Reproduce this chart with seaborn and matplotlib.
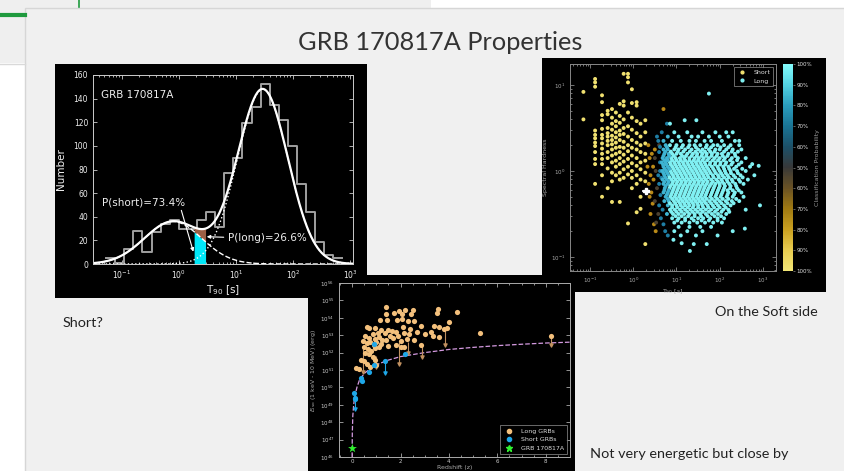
import numpy as np
import pandas as pd
import matplotlib
matplotlib.use("Agg")
import matplotlib.pyplot as plt
import seaborn as sns
from matplotlib.colors import LinearSegmentedColormap, Normalize
from matplotlib.patches import Rectangle
from matplotlib.lines import Line2D
from matplotlib.ticker import LogLocator, LogFormatterSciNotation, MultipleLocator, NullFormatter, NullLocator
import matplotlib.colorbar as mcolorbar

# ---------------- data: T90 histogram (left panel) ----------------
hist_log_edge0 = -1.27
hist_log_width = 0.159
hist_counts = [5, 1, 13, 28, 10, 27, 34, 37, 30, 30, 37, 44, 31, 77, 90,
               119, 133, 152, 135, 122, 100, 68, 44, 19, 8, 5]
short_amp, short_mu, short_sig = 36.0, -0.10, 0.50
long_amp, long_mu, long_sig = 148.0, 1.47, 0.44
grb_fill_logT = [0.27, 0.47]
p_short_label = "P(short)=73.4%"
p_long_label = "P(long)=26.6%"

# ---------------- data: hardness vs T90 (right panel) ----------------
short_cols_logT = [-1.15, -0.88, -0.72, -0.59, -0.49, -0.40, -0.31, -0.22, -0.12, -0.03, 0.08, 0.17, 0.28]
short_cols_logH = [
    [0.92, 0.60],
    [1.07, 1.03, 0.98, 0.47, 0.42, 0.38, 0.33, 0.29, 0.22, 0.14, 0.08, -0.15],
    [0.88, 0.80, 0.65, 0.59, 0.49, 0.42, 0.38, 0.32, 0.26, 0.20, 0.14, 0.08, -0.05, -0.30],
    [0.70, 0.66, 0.50, 0.44, 0.40, 0.35, 0.30, 0.22, 0.15, 0.03, -0.20],
    [0.72, 0.62, 0.55, 0.48, 0.41, 0.36, 0.31, 0.25, 0.18, 0.10, -0.02, -0.12, -0.36],
    [0.68, 0.58, 0.52, 0.45, 0.39, 0.33, 0.27, 0.20, 0.12, 0.05, -0.05],
    [0.78, 0.64, 0.56, 0.47, 0.42, 0.36, 0.28, 0.22, 0.15, 0.08, -0.02, -0.10, -0.36],
    [1.13, 0.81, 0.76, 0.60, 0.50, 0.43, 0.34, 0.27, 0.19, 0.11, 0.02, -0.08],
    [1.13, 1.09, 1.03, 0.68, 0.52, 0.40, 0.30, 0.23, 0.14, 0.05, -0.04, -0.61],
    [0.95, 0.79, 0.62, 0.48, 0.36, 0.27, 0.18, 0.09, 0.00, -0.08, -0.20],
    [0.80, 0.76, 0.58, 0.44, 0.33, 0.25, 0.15, 0.06, -0.05, -0.15, -0.48],
    [0.55, 0.40, 0.30, 0.22, 0.10, 0.02, -0.10, -0.30, -0.44],
    [0.59, 0.45, 0.32, 0.20, 0.12, -0.02, -0.12, -0.85],
]
gold_logT = [0.35, 0.38, 0.33, 0.40, 0.36, 0.42, 0.45, 0.40, 0.48, 0.52, 0.43, 0.46, 0.38, 0.50, 0.70, 0.47]
gold_logH = [0.30, 0.15, 0.05, -0.05, -0.15, -0.25, -0.38, -0.50, -0.62, -0.70, 0.20, 0.05, -0.30, 0.25, 0.72, -0.10]
mid_logT = [0.50, 0.52, 0.55, 0.50, 0.58, 0.60, 0.53]
mid_logH = [0.15, 0.00, -0.20, -0.35, -0.50, 0.30, -0.60]
blue_logT = [0.58, 0.60, 0.62, 0.58, 0.60, 0.63, 0.60, 0.64, 0.66, 0.65, 0.62, 0.68, 0.70, 0.62, 0.74, 0.80, 0.78, 0.55]
blue_logH = [0.35, 0.22, 0.10, -0.05, -0.15, -0.28, -0.40, -0.55, 0.45, -0.08, 0.00, -0.45, -0.62, 0.28, -0.70, -0.75, 0.55, 0.40]
long_row_logH = [0.45, 0.40, 0.35, 0.30, 0.25, 0.20, 0.15, 0.10, 0.05, 0.00, -0.05, -0.10,
                 -0.15, -0.20, -0.25, -0.30, -0.35, -0.40, -0.45, -0.50, -0.55, -0.60, -0.65, -0.70, -0.75]
long_row_logT = [
    [0.95, 1.25, 1.6, 1.9, 2.15, 2.3],
    [0.8, 1.05, 1.35, 1.5, 1.75, 2.0, 2.2],
    [0.7, 0.9, 1.1, 1.3, 1.45, 1.65, 1.8, 2.05, 2.35],
    [0.75, 0.85, 1.0, 1.15, 1.3, 1.42, 1.55, 1.7, 1.85, 1.95, 2.1, 2.25, 2.45],
    [0.7, 0.8, 0.95, 1.05, 1.2, 1.35, 1.5, 1.6, 1.75, 1.9, 2.0, 2.15, 2.3, 2.5],
    [0.72, 0.82, 0.9, 1.0, 1.1, 1.25, 1.38, 1.48, 1.6, 1.7, 1.82, 1.95, 2.05, 2.2, 2.35],
    [0.68, 0.78, 0.88, 0.98, 1.08, 1.18, 1.3, 1.42, 1.52, 1.63, 1.75, 1.88, 2.0, 2.12, 2.28, 2.42],
    [0.66, 0.75, 0.85, 0.95, 1.05, 1.15, 1.25, 1.35, 1.45, 1.55, 1.65, 1.78, 1.9, 2.02, 2.15, 2.3, 2.5],
    [0.7, 0.8, 0.9, 1.0, 1.1, 1.2, 1.3, 1.4, 1.5, 1.6, 1.7, 1.82, 1.95, 2.08, 2.2, 2.38],
    [0.67, 0.76, 0.86, 0.96, 1.06, 1.16, 1.26, 1.36, 1.46, 1.56, 1.66, 1.76, 1.88, 2.0, 2.12, 2.25, 2.4, 2.6],
    [0.72, 0.82, 0.92, 1.02, 1.12, 1.22, 1.32, 1.42, 1.52, 1.62, 1.72, 1.84, 1.96, 2.06, 2.18, 2.32, 2.48],
    [0.68, 0.78, 0.88, 0.98, 1.08, 1.18, 1.28, 1.38, 1.48, 1.58, 1.68, 1.8, 1.92, 2.04, 2.16, 2.28, 2.44],
    [0.7, 0.8, 0.9, 1.0, 1.1, 1.2, 1.3, 1.4, 1.5, 1.6, 1.7, 1.8, 1.9, 2.0, 2.1, 2.22, 2.36, 2.55],
    [0.73, 0.84, 0.94, 1.04, 1.14, 1.24, 1.34, 1.44, 1.54, 1.64, 1.74, 1.86, 1.98, 2.1, 2.24, 2.4],
    [0.7, 0.8, 0.9, 1.0, 1.1, 1.2, 1.3, 1.4, 1.5, 1.6, 1.7, 1.82, 1.94, 2.06, 2.2, 2.35, 2.5],
    [0.75, 0.86, 0.96, 1.06, 1.16, 1.26, 1.36, 1.46, 1.56, 1.66, 1.78, 1.9, 2.02, 2.16, 2.3],
    [0.72, 0.82, 0.94, 1.04, 1.14, 1.24, 1.34, 1.44, 1.54, 1.64, 1.76, 1.88, 2.0, 2.14, 2.28, 2.45],
    [0.8, 0.9, 1.0, 1.1, 1.2, 1.3, 1.4, 1.5, 1.6, 1.72, 1.84, 1.96, 2.1, 2.25],
    [0.85, 0.96, 1.08, 1.2, 1.32, 1.44, 1.56, 1.68, 1.8, 1.94, 2.08, 2.2],
    [0.78, 0.92, 1.05, 1.18, 1.3, 1.42, 1.55, 1.68, 1.82, 1.96, 2.15],
    [0.9, 1.05, 1.2, 1.35, 1.5, 1.62, 1.78, 1.95, 2.1],
    [0.95, 1.12, 1.3, 1.48, 1.66, 1.85, 2.05],
    [1.05, 1.3, 1.55, 1.8],
    [0.95, 1.25, 1.6],
    [1.1, 1.45],
]
long_row2_logH = [0.275, 0.225, 0.175, 0.125, 0.075, 0.025, -0.025, -0.075, -0.125, -0.175,
                  -0.225, -0.275, -0.325, -0.375, -0.425, -0.475, -0.525, -0.575]
long_row2_logT = [
    [0.78, 0.98, 1.12, 1.27, 1.45, 1.68, 1.8, 2.02, 2.2],
    [0.74, 0.87, 1.03, 1.16, 1.31, 1.44, 1.56, 1.66, 1.78, 1.88, 2.1, 2.28, 2.42],
    [0.7, 0.83, 0.94, 1.13, 1.22, 1.35, 1.47, 1.58, 1.69, 1.81, 1.93, 2.07, 2.18, 2.36],
    [0.72, 0.8, 0.9, 1.0, 1.1, 1.2, 1.3, 1.4, 1.5, 1.6, 1.71, 1.84, 1.96, 2.09, 2.24, 2.4],
    [0.69, 0.77, 0.87, 0.97, 1.07, 1.17, 1.27, 1.37, 1.47, 1.57, 1.67, 1.77, 1.89, 2.01, 2.13, 2.27, 2.44],
    [0.73, 0.83, 0.93, 1.03, 1.13, 1.23, 1.33, 1.43, 1.53, 1.63, 1.73, 1.85, 1.97, 2.1, 2.22, 2.33, 2.52],
    [0.7, 0.79, 0.89, 0.99, 1.09, 1.19, 1.29, 1.39, 1.49, 1.59, 1.69, 1.79, 1.91, 2.03, 2.14, 2.26, 2.42],
    [0.74, 0.84, 0.94, 1.04, 1.14, 1.24, 1.34, 1.44, 1.54, 1.64, 1.74, 1.86, 1.98, 2.1, 2.21, 2.36, 2.53],
    [0.72, 0.82, 0.92, 1.02, 1.12, 1.22, 1.32, 1.42, 1.52, 1.62, 1.72, 1.84, 1.96, 2.06, 2.18, 2.3, 2.47],
    [0.75, 0.86, 0.96, 1.06, 1.16, 1.26, 1.36, 1.46, 1.56, 1.66, 1.77, 1.88, 2.0, 2.12, 2.25, 2.38],
    [0.72, 0.82, 0.92, 1.02, 1.12, 1.22, 1.32, 1.42, 1.52, 1.62, 1.72, 1.84, 1.96, 2.08, 2.18, 2.3, 2.44],
    [0.78, 0.88, 0.98, 1.08, 1.18, 1.28, 1.38, 1.48, 1.58, 1.68, 1.8, 1.92, 2.04, 2.18, 2.33],
    [0.8, 0.9, 1.0, 1.1, 1.2, 1.3, 1.4, 1.5, 1.6, 1.7, 1.82, 1.94, 2.07, 2.2, 2.38],
    [0.85, 0.97, 1.08, 1.18, 1.28, 1.38, 1.48, 1.58, 1.68, 1.8, 1.92, 2.04, 2.18, 2.32],
    [0.9, 1.02, 1.14, 1.26, 1.38, 1.5, 1.62, 1.74, 1.87, 2.0, 2.14],
    [0.88, 1.0, 1.12, 1.25, 1.37, 1.49, 1.61, 1.75, 1.89, 2.04, 2.22],
    [0.98, 1.12, 1.27, 1.42, 1.57, 1.72, 1.88, 2.03],
    [1.02, 1.2, 1.4, 1.58, 1.75, 1.95],
]
long_out_logT = [1.75, 1.19, 1.46, 0.85, 2.45, 2.6, 2.7, 2.8, 2.65, 2.75, 2.9, 2.55, 2.6, 2.93, 2.58, 2.3, 1.95, 1.7, 1.4, 1.12, 1.31, 0.93]
long_out_logH = [0.90, 0.59, 0.59, 0.55, 0.35, 0.15, 0.05, -0.05, -0.10, 0.08, 0.06, -0.30, -0.45, -0.40, -0.67, -0.70, -0.75, -0.85, -0.85, -0.84, -0.93, -0.80]
long_edge_logT = 0.84
grb_T90, grb_H = 2.0, 0.58
cbar_labels = ["100%", "90%", "80%", "70%", "60%", "50%", "60%", "70%", "80%", "90%", "100%"]
cbar_colors = ["#f2e676", "#e8cc50", "#caa020", "#a07a12", "#6a5224", "#383838",
               "#1c5068", "#1a7494", "#2a9cbc", "#52d2e2", "#84fcfc"]

# ---------------- data: Eiso vs redshift (bottom panel) ----------------
long_z = [1.40, 1.40, 1.75, 1.95, 2.05, 2.20, 2.50, 2.45, 3.55, 3.50, 4.35, 1.15, 1.45, 1.85, 2.05,
          2.30, 2.55, 2.85, 3.40, 3.60, 4.00, 3.80, 0.60, 0.70, 0.95, 1.20, 1.50, 1.65, 1.80, 2.10,
          2.40, 2.70, 3.00, 3.25, 3.35, 3.60, 3.90, 2.35, 2.15, 1.35, 1.05, 0.55, 0.70, 0.85, 0.95,
          1.10, 1.25, 1.40, 1.55, 1.70, 1.90, 2.00, 2.25, 2.55, 2.85, 0.45, 0.60, 0.75, 0.90, 1.00,
          1.20, 1.50, 1.80, 2.00, 2.15, 0.50, 0.65, 0.80, 0.95, 1.10, 0.55, 0.70, 0.85, 0.35, 0.50,
          0.95, 0.15, 0.30, 0.60, 0.75, 1.00, 5.30, 8.20]
long_logE = [54.6, 54.2, 54.3, 54.4, 54.2, 54.45, 54.45, 54.2, 54.5, 54.3, 54.35, 53.85, 53.85, 53.85, 53.95,
             53.8, 53.8, 53.55, 53.55, 53.45, 53.75, 53.35, 53.45, 53.4, 53.4, 53.3, 53.3, 53.25, 53.2, 53.5,
             53.35, 53.2, 53.05, 53.2, 52.95, 52.9, 53.4, 53.05, 53.15, 53.15, 53.1, 52.95, 52.85, 53.05, 52.8,
             52.9, 52.75, 52.7, 52.95, 52.85, 52.95, 52.65, 52.8, 52.7, 52.45, 52.65, 52.55, 52.6, 52.45, 52.6,
             52.5, 52.4, 52.45, 52.3, 52.35, 52.3, 52.2, 52.1, 52.25, 52.3, 51.95, 51.9, 51.75, 51.55, 51.5,
             51.55, 51.1, 51.05, 51.35, 51.2, 51.3, 53.15, 52.95]
long_lim_z = [0.47, 0.99, 1.93, 2.33, 2.88, 3.85, 8.20]
long_lim_top = [52.2, 51.8, 52.6, 52.6, 52.4, 53.3, 53.0]
long_lim_bot = [50.9, 51.15, 51.35, 51.95, 51.75, 52.45, 52.45]
short_z = [0.07, 0.11, 0.12, 0.35, 0.40, 0.68, 0.90, 0.90, 1.35, 2.20]
short_logE = [49.7, 49.4, 49.35, 50.55, 50.35, 50.9, 51.3, 52.5, 51.5, 51.9]
short_lim_z = [0.11, 1.35]
short_lim_top = [49.7, 51.5]
short_lim_bot = [48.75, 50.85]
grb_z, grb_logE = 0.0098, 46.5
thr_z = [0.0005, 0.004, 0.01, 0.03, 0.06, 0.1, 0.2, 0.3, 0.5, 0.75, 1.0, 1.5, 2.0, 3.0, 4.0, 5.0, 6.0, 7.0, 8.0, 9.0]
thr_logE = [46.0, 46.6, 47.4, 48.35, 48.9, 49.4, 50.0, 50.4, 50.8, 51.08, 51.3, 51.57, 51.77, 52.0, 52.18, 52.3, 52.4, 52.48, 52.55, 52.6]
eiso_decades = list(range(46, 57))

# ---------------- figure / slide frame ----------------
W, H = 844, 471
fig = plt.figure(figsize=(W / 100, H / 100), dpi=100)
fig.patch.set_facecolor("white")


def px(x0, y0, x1, y1):
    return [x0 / W, 1 - y1 / H, (x1 - x0) / W, (y1 - y0) / H]


def add_rect(x0, y0, x1, y1, fc, ec="none", lw=0, z=0):
    r = px(x0, y0, x1, y1)
    fig.add_artist(Rectangle((r[0], r[1]), r[2], r[3], transform=fig.transFigure,
                             facecolor=fc, edgecolor=ec, linewidth=lw, zorder=z))


add_rect(0, 0, 431, 8, "#efefef")
add_rect(0, 0, 25, 63, "#efefef")
fig.add_artist(Line2D([0, 25 / W], [1 - 63.5 / H, 1 - 63.5 / H], transform=fig.transFigure, color="#d9d9d9", lw=1))
add_rect(25, 8, 846, 473, "#f0f0f0", ec="#d6d6d6", lw=1)
fig.add_artist(Line2D([0, 25 / W], [1 - 15 / H, 1 - 15 / H], transform=fig.transFigure, color="#1f9a3e", lw=3))
fig.add_artist(Line2D([79 / W, 79 / W], [1, 1 - 7 / H], transform=fig.transFigure, color="#1f9a3e", lw=1.2))

# black image boxes
add_rect(55, 64, 367, 298, "black", z=1)
add_rect(542, 58, 826, 292, "black", z=1)
add_rect(308, 275, 575, 472, "black", z=1)

fig.text(440 / W, 1 - 43 / H, "GRB 170817A Properties", ha="center", va="center",
         fontsize=18.3, color="#333333", family="Lato")
fig.text(63 / W, 1 - 323 / H, "Short?", ha="left", va="center", fontsize=10.4, color="#222222", family="Lato")
fig.text(818 / W, 1 - 312 / H, "On the Soft side", ha="right", va="center", fontsize=10.4, color="#222222", family="Lato")
fig.text(590 / W, 1 - 454 / H, "Not very energetic but close by", ha="left", va="center", fontsize=10.4,
         color="#222222", family="Lato")


def style_dark(ax, spine="#bbbbbb", tick="#dddddd", size=5):
    ax.set_facecolor("black")
    for s in ax.spines.values():
        s.set_color(spine)
        s.set_linewidth(0.7)
    ax.tick_params(which="both", colors=spine, labelcolor=tick, labelsize=size,
                   direction="in", top=True, right=True, width=0.6)
    ax.tick_params(which="major", length=3)
    ax.tick_params(which="minor", length=1.5)


# ---------------- panel 1: T90 histogram ----------------
ax1 = fig.add_axes(px(93, 75, 353, 264), zorder=3)
log_edges = [hist_log_edge0 + hist_log_width * i for i in range(len(hist_counts) + 1)]
df1 = pd.DataFrame({"T90": [10 ** ((log_edges[i] + log_edges[i + 1]) / 2) for i in range(len(hist_counts))],
                    "n": hist_counts})
sns.histplot(data=df1, x="T90", weights="n", bins=log_edges, log_scale=True, element="step",
             fill=False, color="#a0a0a0", linewidth=1.4, ax=ax1)

T = np.logspace(-1.6, 3.1, 500)
lt = np.log10(T)
short_curve = short_amp * np.exp(-(lt - short_mu) ** 2 / (2 * short_sig ** 2))
long_curve = long_amp * np.exp(-(lt - long_mu) ** 2 / (2 * long_sig ** 2))
total_curve = short_curve + long_curve

Tf = np.logspace(grb_fill_logT[0], grb_fill_logT[1], 30)
ltf = np.log10(Tf)
sf = short_amp * np.exp(-(ltf - short_mu) ** 2 / (2 * short_sig ** 2))
lf = long_amp * np.exp(-(ltf - long_mu) ** 2 / (2 * long_sig ** 2))
ax1.fill_between(Tf, 0, sf, color="#00e8f8", lw=0, zorder=2)
ax1.fill_between(Tf, sf, sf + lf, color="#9c5f44", lw=0, zorder=2)

sns.lineplot(x=T, y=short_curve, color="white", lw=1.0, linestyle="--", estimator=None, ax=ax1)
sns.lineplot(x=T, y=long_curve, color="white", lw=1.0, linestyle=":", estimator=None, ax=ax1)
sns.lineplot(x=T, y=total_curve, color="white", lw=1.6, estimator=None, ax=ax1)

ax1.set_xlim(10 ** -1.5, 10 ** 3.05)
ax1.set_ylim(0, 160)
ax1.set_yticks(np.arange(0, 161, 20))
style_dark(ax1, spine="#cccccc", tick="#eeeeee", size=5.5)
ax1.set_ylabel("Number", color="#eeeeee", fontsize=7.5)
ax1.set_xlabel("T$_{90}$ [s]", color="#eeeeee", fontsize=7.5)
ax1.yaxis.set_label_coords(-0.104, 0.5)
ax1.xaxis.set_label_coords(0.5, -0.10)
ax1.text(0.031, 0.894, "GRB 170817A", transform=ax1.transAxes, color="#eeeeee", fontsize=7.5, va="center")
ax1.annotate(p_short_label, xy=(10 ** 0.256, 10.4), xytext=(10 ** -1.35, 52), color="#eeeeee",
             fontsize=7.5, va="center",
             arrowprops=dict(arrowstyle="-|>", color="white", lw=0.8, shrinkA=0, shrinkB=0,
                             mutation_scale=5, relpos=(0.95, 0.0)))
ax1.annotate(p_long_label, xy=(10 ** 0.49, 23.1), xytext=(10 ** 0.86, 21.7), color="#eeeeee",
             fontsize=7.5, va="center",
             arrowprops=dict(arrowstyle="-|>", color="white", lw=0.8, shrinkA=1, shrinkB=0,
                             mutation_scale=5, relpos=(0.0, 0.6)))

# ---------------- panel 2: hardness vs T90 ----------------
rows = []
for lt_c, hs in zip(short_cols_logT, short_cols_logH):
    for h in hs:
        rows.append((lt_c, h, "short"))
for a, b in zip(gold_logT, gold_logH):
    rows.append((a, b, "gold"))
for a, b in zip(mid_logT, mid_logH):
    rows.append((a, b, "mid"))
for a, b in zip(blue_logT, blue_logH):
    rows.append((a, b, "blue"))
for levels, xs in ((long_row_logH, long_row_logT), (long_row2_logH, long_row2_logT)):
    for h, ts in zip(levels, xs):
        for t in ts:
            rows.append((t, h, "edge" if t < long_edge_logT else "long"))
for a, b in zip(long_out_logT, long_out_logH):
    rows.append((a, b, "long"))
df2 = pd.DataFrame(rows, columns=["logT", "logH", "cls"])
df2["T90"] = 10 ** df2["logT"]
df2["HR"] = 10 ** df2["logH"]

ax2 = fig.add_axes(px(570, 64, 776, 271), zorder=3)
pal = {"short": "#f0e070", "gold": "#b98a18", "mid": "#4a4030", "blue": "#1f7ea4",
       "edge": "#3eb4d2", "long": "#80f0f2"}
sns.scatterplot(data=df2, x="T90", y="HR", hue="cls", palette=pal, s=8, linewidth=0,
                legend=False, ax=ax2)
ax2.errorbar([grb_T90], [grb_H], xerr=[[0.4], [0.4]], yerr=[[0.06], [0.06]], fmt="P",
             color="white", ms=5, elinewidth=1.2, capsize=0, zorder=5)
ax2.set_xscale("log")
ax2.set_yscale("log")
ax2.set_xlim(10 ** -1.46, 10 ** 3.3)
ax2.set_ylim(10 ** -1.163, 10 ** 1.244)
style_dark(ax2, spine="#888888", tick="#aaaaaa", size=4)
ax2.xaxis.set_major_locator(LogLocator(base=10, numticks=10))
ax2.yaxis.set_major_locator(LogLocator(base=10, numticks=10))
ax2.set_xlabel("T$_{90}$ [s]", color="#aaaaaa", fontsize=4.5, labelpad=1.5)
ax2.set_ylabel("Spectral Hardness", color="#aaaaaa", fontsize=4.5, labelpad=2)
leg_handles = [Line2D([], [], marker="o", ls="none", color=pal["short"], ms=2, label="Short"),
               Line2D([], [], marker="o", ls="none", color=pal["long"], ms=2, label="Long")]
lg = ax2.legend(handles=leg_handles, loc="upper right", fontsize=4.5, frameon=True,
                facecolor="black", edgecolor="#999999", labelcolor="#dddddd",
                handletextpad=0.8, borderpad=0.4, fancybox=False)
lg.get_frame().set_linewidth(0.6)

cax = fig.add_axes(px(783, 64, 793, 271), zorder=3)
cmap = LinearSegmentedColormap.from_list("prob", cbar_colors)
cb = mcolorbar.ColorbarBase(cax, cmap=cmap, norm=Normalize(0, 1), orientation="vertical")
cb.set_ticks(np.linspace(0, 1, 11))
cb.set_ticklabels(cbar_labels)
cb.outline.set_visible(False)
cax.tick_params(labelsize=4, labelcolor="#dddddd", colors="#888888", length=1.5, width=0.5, pad=1)
cb.set_label("Classification Probability", color="#999999", fontsize=4.5, labelpad=2)

# ---------------- panel 3: Eiso vs redshift ----------------
ax3 = fig.add_axes(px(339, 283, 570, 457), zorder=4)
ax3.set_yscale("log")
sns.lineplot(x=thr_z, y=[10 ** v for v in thr_logE], color="#d49ae0", lw=0.9, linestyle="--",
             estimator=None, ax=ax3)
ax3.vlines(long_lim_z, [10 ** v for v in long_lim_bot], [10 ** v for v in long_lim_top],
           color="#c09060", lw=0.8, zorder=2)
ax3.scatter(long_lim_z, [10 ** v for v in long_lim_bot], marker="v", s=5, color="#c09060", zorder=2)
ax3.vlines(short_lim_z, [10 ** v for v in short_lim_bot], [10 ** v for v in short_lim_top],
           color="#1ea7e8", lw=0.8, zorder=2)
ax3.scatter(short_lim_z, [10 ** v for v in short_lim_bot], marker="v", s=5, color="#1ea7e8", zorder=2)
sns.scatterplot(x=long_z, y=[10 ** v for v in long_logE], color="#f3c07c", s=14, linewidth=0,
                ax=ax3, zorder=3)
sns.scatterplot(x=short_z, y=[10 ** v for v in short_logE], color="#1ea7e8", s=14, linewidth=0,
                ax=ax3, zorder=3)
sns.scatterplot(x=[grb_z], y=[10 ** grb_logE], color="#30f030", marker="*", s=45, linewidth=0,
                ax=ax3, zorder=4)
ax3.set_xlim(-0.54, 9.0)
ax3.set_ylim(1e46, 1e56)
style_dark(ax3, spine="#aaaaaa", tick="#cccccc", size=4)
ax3.tick_params(axis="x", which="both", pad=1.5)
ax3.set_yticks([10.0 ** k for k in eiso_decades])
ax3.yaxis.set_major_formatter(LogFormatterSciNotation())
ax3.yaxis.set_minor_locator(NullLocator())
ax3.set_xticks([0, 2, 4, 6, 8])
ax3.xaxis.set_minor_locator(MultipleLocator(0.5))
ax3.set_xlabel("Redshift (z)", color="#aaaaaa", fontsize=4.5, labelpad=0.3)
ax3.set_ylabel("$E_{\\rm iso}$ (1 keV - 10 MeV) (erg)", color="#aaaaaa", fontsize=4.5, labelpad=2)
leg3_handles = [Line2D([], [], marker="o", ls="none", color="#f3c07c", ms=3, label="Long GRBs"),
                Line2D([], [], marker="o", ls="none", color="#1ea7e8", ms=3, label="Short GRBs"),
                Line2D([], [], marker="*", ls="none", color="#30f030", ms=5, label="GRB 170817A")]
lg3 = ax3.legend(handles=leg3_handles, loc="lower right", fontsize=4.5, frameon=True,
                 facecolor="black", edgecolor="#999999", labelcolor="#dddddd", fancybox=False,
                 borderpad=0.5, handletextpad=0.8)
lg3.get_frame().set_linewidth(0.6)

fig.savefig("out.png", dpi=100, facecolor=fig.get_facecolor())
